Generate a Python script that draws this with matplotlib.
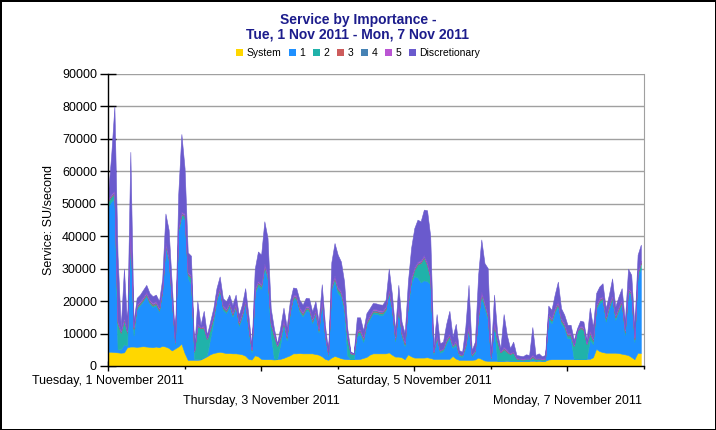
import matplotlib
matplotlib.use("Agg")
import matplotlib.pyplot as plt
from matplotlib.patches import Patch
from matplotlib.ticker import FuncFormatter
import pandas as pd

plt.rcParams['font.family'] = ['Liberation Sans', 'DejaVu Sans']

start = "2011-11-01"
names = ["System", "1", "2", "3", "4", "5", "Discretionary"]
colours = ["#FFD700", "#1E90FF", "#20B2AA", "#CD5C5C", "#4682B4", "#BA55D3", "#6A5ACD"]

# hourly service units (SU/second)
system = [4400, 4400, 4300, 4200, 4100, 4200, 5800, 6000, 6000, 5900, 6000, 6100,
          6000, 5900, 5800, 6000, 5800, 6200, 6000, 5600, 4800, 5400, 6000, 6900,
          4000, 1900, 1900, 1900, 1900, 2000, 2500, 3000, 3600, 4000, 4200, 4400,
          4200, 4000, 4000, 3900, 3900, 3800, 3600, 3200, 2200, 2000, 3300, 3000,
          2200, 2100, 2100, 2100, 2000, 2100, 2200, 2500, 2900, 3300, 3900, 3900,
          4000, 3900, 3900, 3900, 3900, 3700, 3500, 3000, 2200, 1900, 2600, 3100,
          2800, 2400, 2200, 2100, 2100, 2100, 2100, 2200, 2500, 2800, 3500, 3900,
          3900, 3900, 3900, 3900, 4200, 3500, 2900, 2900, 2700, 2100, 3600, 3000,
          2600, 2600, 2600, 2600, 2700, 2500, 2200, 2200, 2200, 2200, 2200, 2200,
          3100, 2300, 1900, 1900, 1900, 1900, 1900, 2000, 2600, 2200, 1700, 1600,
          1600, 1600, 1600, 1600, 1600, 1600, 1600, 1600, 1600, 1600, 1600, 1600,
          1600, 1600, 1600, 1600, 1600, 1600, 2000, 2100, 2100, 2100, 2100, 2100,
          2100, 2100, 2100, 2100, 2100, 2100, 2200, 2200, 2700, 5300, 4600, 4300,
          4100, 4100, 4100, 4100, 4000, 3800, 3600, 3400, 2800, 2100, 4100, 4000]

imp1 = [44800, 46300, 47400, 1000, 1100, 2500, 400, 35200, 3400, 11500, 12700, 13900,
        15500, 13300, 12400, 12700, 10900, 16400, 30400, 26800, 14800, 1300, 35200, 38800,
        41200, 25300, 23300, 200, 300, 200, 200, 300, 4800, 9500, 15800, 18700,
        13100, 12300, 14400, 11300, 14200, 8500, 11500, 15900, 8900, 2100, 19100, 21700,
        21500, 27700, 24600, 7900, 300, 100, 4500, 10200, 5000, 12800, 16700, 16500,
        12800, 11400, 13200, 13100, 9300, 12400, 6800, 16800, 6600, 1200, 20800, 23000,
        19700, 19000, 14500, 1200, 0, 0, 7100, 7700, 4900, 9800, 10900, 12300,
        12200, 11900, 11800, 13100, 18200, 13500, 4700, 14500, 6500, 4000, 14800, 22600,
        25100, 24700, 23200, 23800, 23500, 22700, 1400, 6200, 1900, 2400, 4800, 6200,
        2500, 4200, 1200, 900, 3600, 9300, 1000, 2100, 11600, 18800, 16200, 12800,
        500, 10600, 100, 100, 100, 200, 100, 100, 100, 100, 100, 100,
        100, 500, 100, 200, 100, 100, 12500, 11100, 14300, 16300, 11100, 9600,
        6500, 6500, 100, 200, 100, 100, 100, 6000, 4000, 12100, 14800, 15600,
        9600, 13300, 16300, 10100, 12800, 15100, 6000, 19000, 18700, 5300, 23400, 26100]

imp2 = [1500, 1500, 1500, 8000, 5000, 7500, 4000, 3000, 2000, 800, 500, 500,
        500, 500, 500, 500, 500, 600, 800, 800, 600, 500, 800, 1000,
        1000, 1000, 2000, 2300, 10000, 9500, 9000, 5000, 3000, 1500, 700, 700,
        600, 600, 600, 600, 600, 600, 600, 600, 800, 800, 800, 800,
        800, 1000, 1000, 3000, 7000, 4000, 2000, 1000, 800, 600, 600, 600,
        600, 600, 600, 600, 600, 600, 600, 600, 600, 500, 800, 1000,
        1000, 1000, 1500, 5000, 1800, 1500, 1000, 800, 800, 700, 600, 600,
        600, 600, 600, 600, 800, 700, 600, 800, 700, 600, 800, 1000,
        2000, 4000, 6000, 7000, 5000, 2000, 600, 800, 600, 600, 700, 800,
        600, 700, 500, 500, 700, 1000, 500, 600, 1000, 1200, 1000, 1000,
        400, 1000, 6000, 2500, 3500, 2500, 2000, 2500, 600, 400, 300, 400,
        400, 600, 400, 400, 300, 400, 800, 800, 800, 800, 800, 800,
        800, 800, 4000, 8500, 9500, 9000, 4500, 2000, 1000, 800, 800, 800,
        800, 800, 800, 800, 800, 800, 800, 800, 800, 800, 1000, 1500]

imp3 = [200, 200, 200, 200, 200, 200, 200, 200, 200, 200, 200, 200,
        200, 200, 200, 200, 200, 200, 200, 200, 200, 100, 200, 200,
        200, 200, 200, 100, 200, 100, 200, 100, 200, 200, 200, 200,
        200, 200, 200, 200, 200, 200, 200, 200, 200, 100, 200, 200,
        200, 200, 200, 200, 200, 100, 200, 200, 200, 200, 200, 200,
        200, 200, 200, 200, 200, 200, 200, 200, 200, 100, 200, 200,
        200, 200, 200, 200, 100, 100, 200, 200, 200, 200, 200, 200,
        200, 200, 200, 200, 200, 200, 200, 200, 200, 200, 200, 200,
        200, 200, 200, 200, 200, 200, 100, 200, 100, 100, 200, 200,
        100, 200, 100, 100, 200, 200, 100, 100, 200, 200, 200, 200,
        100, 200, 200, 100, 200, 200, 100, 100, 100, 100, 100, 100,
        100, 200, 100, 100, 100, 100, 200, 200, 200, 200, 200, 200,
        200, 200, 100, 100, 200, 200, 100, 200, 200, 200, 200, 200,
        200, 200, 200, 200, 200, 200, 200, 200, 200, 200, 200, 200]

imp4 = [300, 300, 300, 300, 300, 300, 300, 300, 300, 300, 300, 300,
        300, 300, 300, 300, 300, 300, 300, 300, 300, 100, 300, 300,
        300, 300, 300, 100, 300, 100, 300, 100, 300, 300, 300, 300,
        300, 300, 300, 300, 300, 300, 300, 300, 300, 100, 300, 300,
        300, 300, 300, 300, 300, 100, 300, 300, 300, 300, 300, 300,
        300, 300, 300, 300, 300, 300, 300, 300, 300, 100, 300, 300,
        300, 300, 300, 300, 100, 100, 300, 300, 300, 300, 300, 300,
        300, 300, 300, 300, 300, 300, 300, 300, 300, 300, 300, 300,
        300, 300, 300, 300, 300, 300, 100, 300, 100, 100, 300, 300,
        100, 300, 100, 100, 300, 300, 100, 100, 300, 300, 300, 300,
        100, 300, 300, 100, 300, 300, 100, 100, 100, 100, 100, 100,
        100, 300, 100, 100, 100, 100, 300, 300, 300, 300, 300, 300,
        300, 300, 100, 100, 300, 300, 100, 300, 300, 300, 300, 300,
        300, 300, 300, 300, 300, 300, 300, 300, 300, 300, 300, 300]

imp5 = [300, 300, 300, 300, 300, 300, 300, 300, 300, 300, 300, 300,
        300, 300, 300, 300, 300, 300, 300, 300, 300, 100, 300, 300,
        300, 300, 300, 100, 300, 100, 300, 100, 300, 300, 300, 300,
        300, 300, 300, 300, 300, 300, 300, 300, 300, 100, 300, 300,
        300, 300, 300, 300, 300, 100, 300, 300, 300, 300, 300, 300,
        300, 300, 300, 300, 300, 300, 300, 300, 300, 100, 300, 300,
        300, 300, 300, 300, 100, 100, 300, 300, 300, 300, 300, 300,
        300, 300, 300, 300, 300, 300, 300, 300, 300, 300, 300, 300,
        300, 300, 300, 300, 300, 300, 100, 300, 100, 100, 300, 300,
        100, 300, 100, 100, 300, 300, 100, 100, 300, 300, 300, 300,
        100, 300, 300, 100, 300, 300, 100, 100, 100, 100, 100, 100,
        100, 300, 100, 100, 100, 100, 300, 300, 300, 300, 300, 300,
        300, 300, 100, 100, 300, 300, 100, 300, 300, 300, 300, 300,
        300, 300, 300, 300, 300, 300, 300, 300, 300, 300, 300, 300]

disc = [1500, 12000, 26000, 20000, 1000, 15000, 1000, 21000, 1500, 2000, 2000, 2200,
        2200, 2000, 2000, 2000, 2000, 3000, 9000, 8000, 4000, 1000, 10000, 24000,
        14000, 6000, 6000, 300, 7000, 700, 4500, 1000, 1500, 2000, 2500, 3000,
        2200, 2200, 2200, 2200, 2500, 2000, 2500, 3500, 3000, 800, 6000, 9000,
        9000, 13000, 11000, 4000, 1500, 500, 2500, 3500, 2500, 2500, 2200, 2200,
        2200, 2200, 2500, 2500, 2200, 2500, 2000, 4000, 2500, 500, 7000, 10000,
        10000, 9000, 7000, 2500, 200, 100, 4000, 3500, 2000, 2200, 2000, 1800,
        1800, 1800, 1800, 2000, 6000, 3500, 2000, 6000, 3000, 2500, 6000, 9000,
        12000, 13000, 12000, 14000, 16000, 12000, 1500, 6000, 2000, 2000, 4500, 7000,
        2500, 5000, 1000, 800, 5000, 12000, 1200, 2500, 12000, 16000, 12000, 14000,
        1200, 8000, 1500, 1000, 10000, 4500, 1500, 3000, 800, 800, 700, 1200,
        1000, 8500, 1000, 1400, 700, 1000, 2500, 2500, 4000, 6000, 3000, 2500,
        2500, 2500, 1500, 500, 1500, 1700, 900, 7000, 3500, 3500, 3500, 4000,
        2500, 3000, 5000, 2500, 3000, 3500, 2500, 6000, 5000, 3000, 5000, 5000]

times = pd.date_range(start, periods=len(system), freq="h").to_pydatetime()
days = pd.date_range(start, periods=8, freq="D").to_pydatetime()

fig = plt.figure(figsize=(7.16, 4.30), dpi=100)
fig.patch.set_edgecolor("black")
fig.patch.set_linewidth(2)

ax = fig.add_axes([108 / 716, 1 - 366 / 430, 536 / 716, 292 / 430])
ax.stackplot(times, system, imp1, imp2, imp3, imp4, imp5, disc,
             colors=colours, edgecolor="face", linewidth=0.4)

ax.set_ylim(0, 90000)
ax.set_yticks(range(0, 90001, 10000))
ax.yaxis.set_major_formatter(FuncFormatter(lambda v, p: f"{int(v)}"))
ax.set_xlim(days[0], days[-1])

ax.set_axisbelow(True)
ax.grid(axis="y", color="#a0a0a0", linewidth=1)
ax.spines["top"].set_visible(False)
ax.spines["right"].set_color("#a0a0a0")
for s in ("left", "bottom"):
    ax.spines[s].set_color("black")
    ax.spines[s].set_linewidth(1)

major = days[0:7:2]
labels = []
for i, d in enumerate(major):
    lab = f"{d:%A}, {d.day} {d:%B %Y}"
    if i % 2:
        lab = "\n" + lab
    labels.append(lab)
ax.set_xticks(major)
ax.set_xticklabels(labels, fontsize=9, linespacing=1.85)
ax.set_xticks(days[1::2], minor=True)
ax.tick_params(axis="x", which="major", direction="inout", length=7, width=1, pad=3)
ax.tick_params(axis="x", which="minor", direction="out", length=2.5, width=1)
ax.tick_params(axis="y", direction="inout", length=12, width=1, pad=2, labelsize=9)

ax.set_ylabel("Service: SU/second", fontsize=9, labelpad=5)

fig.text(0.5, 1 - 13 / 430, "Service by Importance -\nTue, 1 Nov 2011 - Mon, 7 Nov 2011",
         ha="center", va="top", fontsize=10, fontweight="bold", color="#1c1c8c",
         linespacing=1.05)

handles = [Patch(facecolor=c, edgecolor="none") for c in colours]
fig.legend(handles, names, loc="center", bbox_to_anchor=(358 / 716, 1 - 53 / 430),
           ncol=7, frameon=False, fontsize=7.5, handlelength=0.65, handleheight=0.65,
           handletextpad=0.35, columnspacing=0.75, borderaxespad=0, borderpad=0)

fig.savefig("out.png", dpi=100)
